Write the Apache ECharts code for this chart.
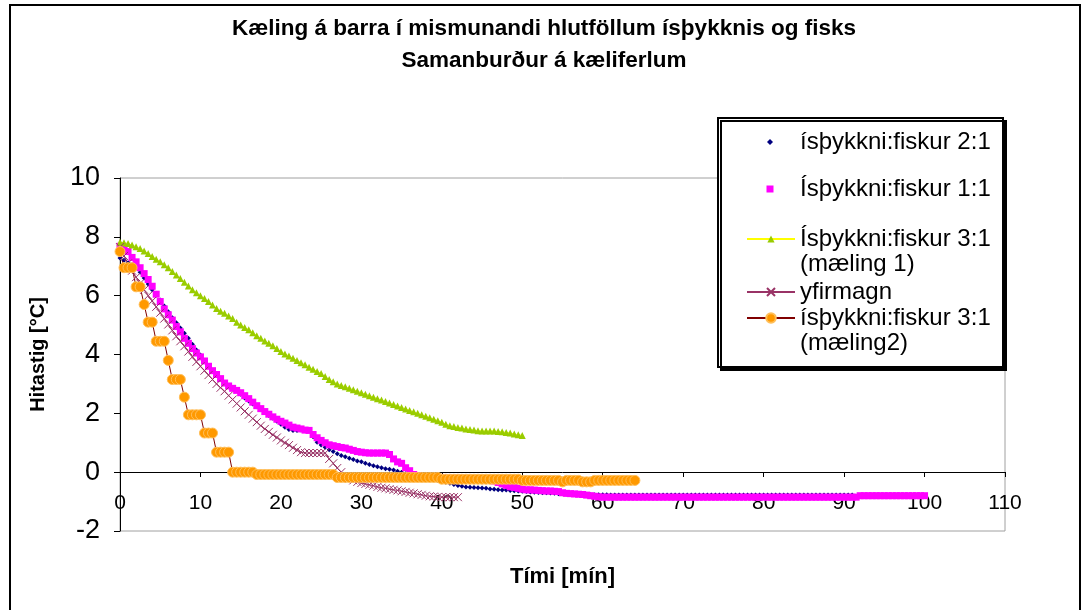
<!DOCTYPE html>
<html>
<head>
<meta charset="utf-8">
<script src="https://cdn.jsdelivr.net/npm/echarts@6/dist/echarts.min.js"></script>
<style>html,body{margin:0;padding:0;background:#fff;}#c{width:1088px;height:610px;}</style>
</head>
<body>
<div id="c"></div>
<script>
// sampling interval of all measurements (minutes)
const sampleStep = 0.5;

const seriesNames = [
  'ísþykkni:fiskur 2:1',
  'Ísþykkni:fiskur 1:1',
  'Ísþykkni:fiskur 3:1 (mæling 1)',
  'yfirmagn',
  'ísþykkni:fiskur 3:1 (mæling2)'
];

const xTicks = { min: 0, max: 110, interval: 10 };
const yTicks = { min: -2, max: 10, interval: 2 };

// ísþykkni:fiskur 2:1  (t = 0 ... 91 min)
const ratio21 = [
  7.28,7.2,7.12,7.05,6.95,6.8,6.6,6.4,6.2,6.02,
  5.85,5.65,5.45,5.25,5.08,4.9,4.72,4.55,4.35,4.15,
  3.98,3.8,3.62,3.45,3.3,3.15,3.02,2.95,2.88,2.78,
  2.65,2.52,2.42,2.32,2.22,2.12,2.03,1.93,1.83,1.73,
  1.63,1.53,1.45,1.42,1.42,1.43,1.45,1.45,1.2,1.02,
  0.92,0.85,0.76,0.7,0.63,0.57,0.52,0.47,0.43,0.38,
  0.35,0.3,0.26,0.22,0.18,0.15,0.12,0.1,0.07,0.03,
  0.0,-0.05,-0.1,-0.12,-0.15,-0.18,-0.2,-0.23,-0.26,-0.28,
  -0.31,-0.34,-0.38,-0.42,-0.45,-0.48,-0.5,-0.51,-0.52,-0.53,
  -0.54,-0.55,-0.57,-0.58,-0.6,-0.61,-0.61,-0.62,-0.63,-0.64,
  -0.65,-0.66,-0.67,-0.68,-0.69,-0.7,-0.7,-0.71,-0.72,-0.73,
  -0.73,-0.74,-0.75,-0.76,-0.76,-0.76,-0.77,-0.77,-0.77,-0.77,
  -0.77,-0.77,-0.78,-0.78,-0.78,-0.78,-0.78,-0.78,-0.78,-0.78,
  -0.78,-0.78,-0.78,-0.78,-0.78,-0.78,-0.78,-0.78,-0.78,-0.78,
  -0.78,-0.78,-0.78,-0.78,-0.78,-0.78,-0.78,-0.78,-0.78,-0.78,
  -0.78,-0.78,-0.78,-0.78,-0.78,-0.78,-0.78,-0.78,-0.78,-0.78,
  -0.78,-0.78,-0.78,-0.78,-0.78,-0.78,-0.78,-0.78,-0.78,-0.78,
  -0.78,-0.78,-0.78,-0.78,-0.78,-0.78,-0.78,-0.78,-0.78,-0.78,
  -0.78,-0.78,-0.78
];

// Ísþykkni:fiskur 1:1  (t = 0 ... 100 min)
const ratio11 = [
  7.68,7.6,7.5,7.3,7.15,6.95,6.75,6.55,6.32,6.05,
  5.8,5.55,5.35,5.17,4.95,4.77,4.55,4.38,4.2,4.05,
  3.92,3.78,3.6,3.45,3.32,3.18,3.03,2.93,2.85,2.78,
  2.7,2.6,2.5,2.38,2.26,2.16,2.06,1.97,1.88,1.8,
  1.73,1.67,1.6,1.53,1.5,1.47,1.43,1.42,1.28,1.17,
  1.08,1.0,0.93,0.9,0.87,0.84,0.82,0.78,0.74,0.7,
  0.68,0.66,0.65,0.65,0.65,0.65,0.65,0.6,0.45,0.35,
  0.3,0.15,0.05,-0.08,-0.12,-0.15,-0.17,-0.17,-0.17,-0.18,
  -0.18,-0.19,-0.2,-0.2,-0.2,-0.21,-0.21,-0.21,-0.22,-0.22,
  -0.22,-0.22,-0.22,-0.3,-0.35,-0.4,-0.45,-0.5,-0.52,-0.55,
  -0.58,-0.6,-0.6,-0.61,-0.62,-0.63,-0.64,-0.64,-0.65,-0.66,
  -0.7,-0.72,-0.73,-0.74,-0.75,-0.76,-0.78,-0.8,-0.82,-0.84,
  -0.85,-0.85,-0.85,-0.85,-0.85,-0.85,-0.85,-0.85,-0.85,-0.85,
  -0.85,-0.85,-0.85,-0.85,-0.85,-0.85,-0.85,-0.85,-0.85,-0.85,
  -0.85,-0.85,-0.85,-0.85,-0.85,-0.85,-0.85,-0.85,-0.85,-0.85,
  -0.85,-0.85,-0.85,-0.85,-0.85,-0.85,-0.85,-0.85,-0.85,-0.85,
  -0.85,-0.85,-0.85,-0.85,-0.85,-0.85,-0.85,-0.85,-0.85,-0.85,
  -0.85,-0.85,-0.85,-0.85,-0.85,-0.85,-0.85,-0.85,-0.85,-0.85,
  -0.85,-0.85,-0.85,-0.85,-0.8,-0.8,-0.8,-0.8,-0.8,-0.8,
  -0.8,-0.8,-0.8,-0.8,-0.8,-0.8,-0.8,-0.8,-0.8,-0.8,
  -0.8
];

// Ísþykkni:fiskur 3:1 (mæling 1)  (t = 0 ... 50 min)
const ratio31a = [
  7.82,7.8,7.77,7.72,7.66,7.6,7.52,7.43,7.33,7.24,
  7.15,7.05,6.95,6.82,6.7,6.58,6.46,6.33,6.2,6.1,
  6.0,5.9,5.8,5.68,5.56,5.47,5.4,5.31,5.22,5.1,
  5.0,4.92,4.84,4.74,4.64,4.55,4.46,4.38,4.3,4.2,
  4.1,4.02,3.95,3.87,3.8,3.72,3.65,3.57,3.5,3.42,
  3.35,3.25,3.15,3.07,3.0,2.95,2.9,2.85,2.8,2.75,
  2.7,2.65,2.6,2.55,2.5,2.45,2.4,2.35,2.3,2.25,
  2.2,2.15,2.1,2.05,2.0,1.95,1.9,1.85,1.8,1.75,
  1.7,1.63,1.58,1.55,1.52,1.5,1.47,1.45,1.43,1.41,
  1.4,1.4,1.4,1.4,1.38,1.37,1.35,1.33,1.3,1.27,
  1.25
];

// yfirmagn  (t = 0 ... 42 min)
const surplus = [
  7.65,7.35,7.1,6.85,6.63,6.42,6.2,6.0,5.82,5.62,
  5.42,5.22,5.02,4.82,4.62,4.45,4.28,4.1,3.92,3.75,
  3.6,3.45,3.3,3.15,3.0,2.87,2.75,2.6,2.47,2.33,
  2.2,2.07,1.95,1.82,1.7,1.58,1.47,1.37,1.27,1.18,
  1.08,1.0,0.92,0.83,0.75,0.68,0.65,0.65,0.65,0.65,
  0.65,0.65,0.45,0.3,0.14,0.0,-0.15,-0.22,-0.28,-0.33,
  -0.37,-0.4,-0.43,-0.46,-0.5,-0.53,-0.55,-0.58,-0.6,-0.62,
  -0.65,-0.67,-0.7,-0.72,-0.75,-0.77,-0.8,-0.82,-0.83,-0.84,
  -0.85,-0.85,-0.85,-0.85,-0.85
];

// ísþykkni:fiskur 3:1 (mæling2)  (t = 0 ... 64 min)
const ratio31b = [
  7.5,6.95,6.95,6.95,6.3,6.3,5.7,5.1,5.1,4.45,
  4.45,4.45,3.8,3.15,3.15,3.15,2.55,1.95,1.95,1.95,
  1.95,1.33,1.33,1.33,0.68,0.68,0.68,0.68,0.0,0.0,
  0.0,0.0,0.0,0.0,-0.08,-0.08,-0.08,-0.08,-0.08,-0.08,
  -0.08,-0.08,-0.08,-0.08,-0.08,-0.08,-0.08,-0.08,-0.08,-0.08,
  -0.08,-0.08,-0.08,-0.08,-0.18,-0.18,-0.18,-0.18,-0.18,-0.18,
  -0.18,-0.18,-0.18,-0.18,-0.18,-0.18,-0.18,-0.18,-0.18,-0.18,
  -0.18,-0.18,-0.18,-0.18,-0.18,-0.18,-0.18,-0.18,-0.18,-0.18,
  -0.24,-0.24,-0.24,-0.24,-0.24,-0.24,-0.24,-0.24,-0.24,-0.24,
  -0.24,-0.24,-0.24,-0.24,-0.24,-0.24,-0.24,-0.24,-0.24,-0.24,
  -0.28,-0.28,-0.28,-0.28,-0.28,-0.28,-0.28,-0.28,-0.28,-0.28,
  -0.33,-0.28,-0.28,-0.28,-0.28,-0.33,-0.33,-0.33,-0.28,-0.28,
  -0.28,-0.28,-0.28,-0.28,-0.28,-0.28,-0.28,-0.28,-0.28
];

function pairs(vals) {
  return vals.map((v, i) => [i * sampleStep, v]);
}

const FONT = "'Liberation Sans', Arial, sans-serif";
const chart = echarts.init(document.getElementById('c'), null, { renderer: 'canvas' });

const xMark = 'path://M0,0L10,10M10,0L0,10';
const LEG_FS = 24;

// line-icon legend entry (line + marker), text may wrap onto two lines
function legendLine(name, centerY, itemHeight, twoLine) {
  return {
    data: [name],
    orient: 'vertical',
    left: 746,
    top: centerY - (twoLine ? 37.5 : 12.5),
    padding: 0,
    itemWidth: 48,
    itemHeight: itemHeight,
    selectedMode: false,
    z: 10,
    formatter: n => twoLine ? '\n' + n.replace(' (', '\n(') : n,
    textStyle: { fontFamily: FONT, fontSize: LEG_FS, color: '#000', lineHeight: 25 }
  };
}
// marker-only legend entry
function legendMarker(name, centerY, size, icon) {
  return {
    data: [{ name: name, icon: icon }],
    orient: 'vertical',
    left: 770 - size / 2,
    top: centerY - 12.5,
    padding: 0,
    itemWidth: size,
    itemHeight: size,
    selectedMode: false,
    z: 10,
    formatter: n => '{pad|}' + n,
    textStyle: {
      fontFamily: FONT, fontSize: LEG_FS, color: '#000', lineHeight: 25,
      rich: { pad: { width: 800 - (770 - size / 2) - size - 5, fontSize: LEG_FS, lineHeight: 25 } }
    }
  };
}

const option = {
  animation: false,
  backgroundColor: '#ffffff',
  title: {
    text: 'Kæling á barra í mismunandi hlutföllum ísþykknis og fisks',
    subtext: 'Samanburður á kæliferlum',
    left: 'center',
    top: 12,
    itemGap: 9,
    textStyle: { fontFamily: FONT, fontSize: 22.5, fontWeight: 'bold', color: '#000' },
    subtextStyle: { fontFamily: FONT, fontSize: 22.5, fontWeight: 'bold', color: '#000' }
  },
  legend: [
    legendMarker(seriesNames[0], 142, 6, 'diamond'),
    legendMarker(seriesNames[1], 189, 7, 'rect'),
    legendLine(seriesNames[2], 239, 9, true),
    legendLine(seriesNames[3], 292, 10, false),
    legendLine(seriesNames[4], 318, 12, true)
  ],
  graphic: [
    { type: 'rect', shape: { x: 10, y: 5, width: 1070, height: 640 },
      style: { fill: 'none', stroke: '#000', lineWidth: 2 }, z: 100, silent: true },
    { type: 'rect', shape: { x: 718, y: 118, width: 285, height: 249 },
      style: { fill: '#fff', stroke: '#000', lineWidth: 2, shadowColor: '#000', shadowOffsetX: 3, shadowOffsetY: 3, shadowBlur: 0 },
      z: 1, silent: true }
  ],
  grid: {
    left: 120, top: 178, width: 885, height: 353,
    containLabel: false,
    outerBoundsMode: 'none',
    show: true, borderColor: '#a0a0a0', borderWidth: 1, backgroundColor: 'transparent'
  },
  xAxis: {
    type: 'value',
    min: xTicks.min, max: xTicks.max, interval: xTicks.interval,
    offset: -59,
    name: 'Tími [mín]',
    nameLocation: 'middle',
    nameGap: 94,
    nameTextStyle: { fontFamily: FONT, fontSize: 22, fontWeight: 'bold', color: '#000', verticalAlign: 'top' },
    axisLine: { onZero: false, lineStyle: { color: '#000', width: 1 } },
    axisTick: { show: true, inside: false, length: 5, lineStyle: { color: '#000' } },
    axisLabel: { fontFamily: FONT, fontSize: 21, color: '#000', margin: 21, showMinLabel: true, showMaxLabel: true },
    splitLine: { show: false }
  },
  yAxis: {
    type: 'value',
    min: yTicks.min, max: yTicks.max, interval: yTicks.interval,
    name: 'Hitastig [°C]',
    nameLocation: 'middle',
    nameGap: 72,
    nameTextStyle: { fontFamily: FONT, fontSize: 20, fontWeight: 'bold', color: '#000' },
    axisLine: { show: true, onZero: false, lineStyle: { color: '#000', width: 1 } },
    axisTick: { show: true, inside: false, length: 6, lineStyle: { color: '#000' } },
    axisLabel: { fontFamily: FONT, fontSize: 27, color: '#000', margin: 20 },
    splitLine: { show: false }
  },
  series: [
    {
      name: seriesNames[0], type: 'scatter', data: pairs(ratio21),
      symbol: 'diamond', symbolSize: 5,
      itemStyle: { color: '#000080', opacity: 1 },
      emphasis: { disabled: true }, z: 2
    },
    {
      name: seriesNames[1], type: 'scatter', data: pairs(ratio11),
      symbol: 'rect', symbolSize: 7,
      itemStyle: { color: '#ff00ff', opacity: 1 },
      emphasis: { disabled: true }, z: 2
    },
    {
      name: seriesNames[2], type: 'line', data: pairs(ratio31a),
      symbol: 'triangle', symbolSize: 7, showSymbol: true,
      lineStyle: { color: '#ffff00', width: 1 },
      itemStyle: { color: '#99cc00' },
      emphasis: { disabled: true }, z: 2
    },
    {
      name: seriesNames[3], type: 'line', data: pairs(surplus),
      symbol: xMark, symbolSize: 8, showSymbol: true,
      lineStyle: { color: '#993366', width: 1 },
      itemStyle: { color: '#993366', borderColor: '#993366', borderWidth: 1 },
      emphasis: { disabled: true }, z: 2
    },
    {
      name: seriesNames[4], type: 'line', data: pairs(ratio31b),
      symbol: 'circle', symbolSize: 10, showSymbol: true,
      lineStyle: { color: '#800000', width: 1 },
      itemStyle: { color: '#ff9900', borderColor: '#ffbf59', borderWidth: 1 },
      emphasis: { disabled: true }, z: 2
    }
  ]
};
chart.setOption(option);
</script>
</body>
</html>
